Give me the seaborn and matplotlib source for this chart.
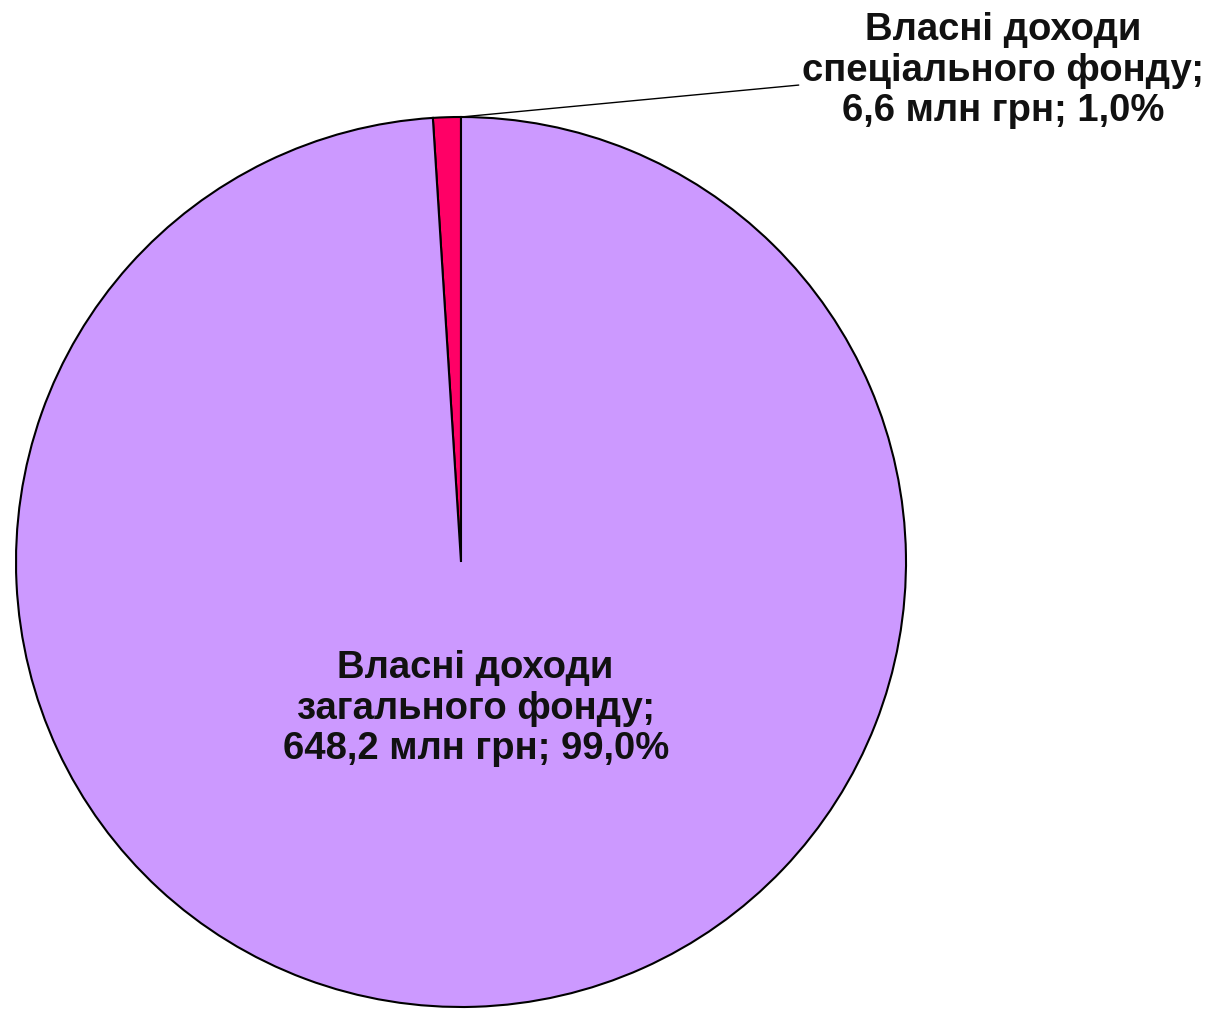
import numpy as np
import matplotlib
matplotlib.use("Agg")
import matplotlib.pyplot as plt
import seaborn as sns

# data
categories = ["Власні доходи\nспеціального фонду", "Власні доходи\nзагального фонду"]
values_mln = [6.6, 648.2]
shares_pct = [1.0, 99.0]
slice_colors = ["#FF0066", "#CC99FF"]

sns.set_theme(style="white")
plt.rcParams['font.family'] = ['Liberation Sans', 'DejaVu Sans']


def fmt_label(name, val, pct):
    v = f"{val:.1f}".replace(".", ",")
    p = f"{pct:.1f}".replace(".", ",")
    return f"{name};\n{v} млн грн; {p}%"


fig = plt.figure(figsize=(12.15, 10.10), dpi=100)
ax = fig.add_axes([16 / 1215, 3 / 1010, 890 / 1215, 890 / 1010])

wedges, _ = ax.pie(values_mln, colors=slice_colors, startangle=90, counterclock=True,
                   wedgeprops=dict(edgecolor="black", linewidth=1.5))
ax.set_xlim(-1, 1)
ax.set_ylim(-1, 1)
ax.set_aspect("auto")
ax.axis("off")

labels = [fmt_label(c, v, p) for c, v, p in zip(categories, values_mln, shares_pct)]
fs = 27.5

# big slice label inside
ax.text(0.033, -0.33, labels[1], ha="center", va="center", fontsize=fs,
        fontweight="bold", color="#111111", linespacing=1.16)

# small slice label outside with leader line
t1 = np.deg2rad(wedges[0].theta1)
ax.annotate(labels[0], xy=(np.cos(t1), np.sin(t1)), xytext=(1.218, 1.104),
            ha="center", va="center", fontsize=fs, fontweight="bold", color="#111111",
            linespacing=1.16, annotation_clip=False,
            arrowprops=dict(arrowstyle="-", color="black", lw=1.0,
                            shrinkA=0, shrinkB=0, relpos=(0.0, 0.38)))

fig.savefig("out.png", dpi=100, facecolor="white")
